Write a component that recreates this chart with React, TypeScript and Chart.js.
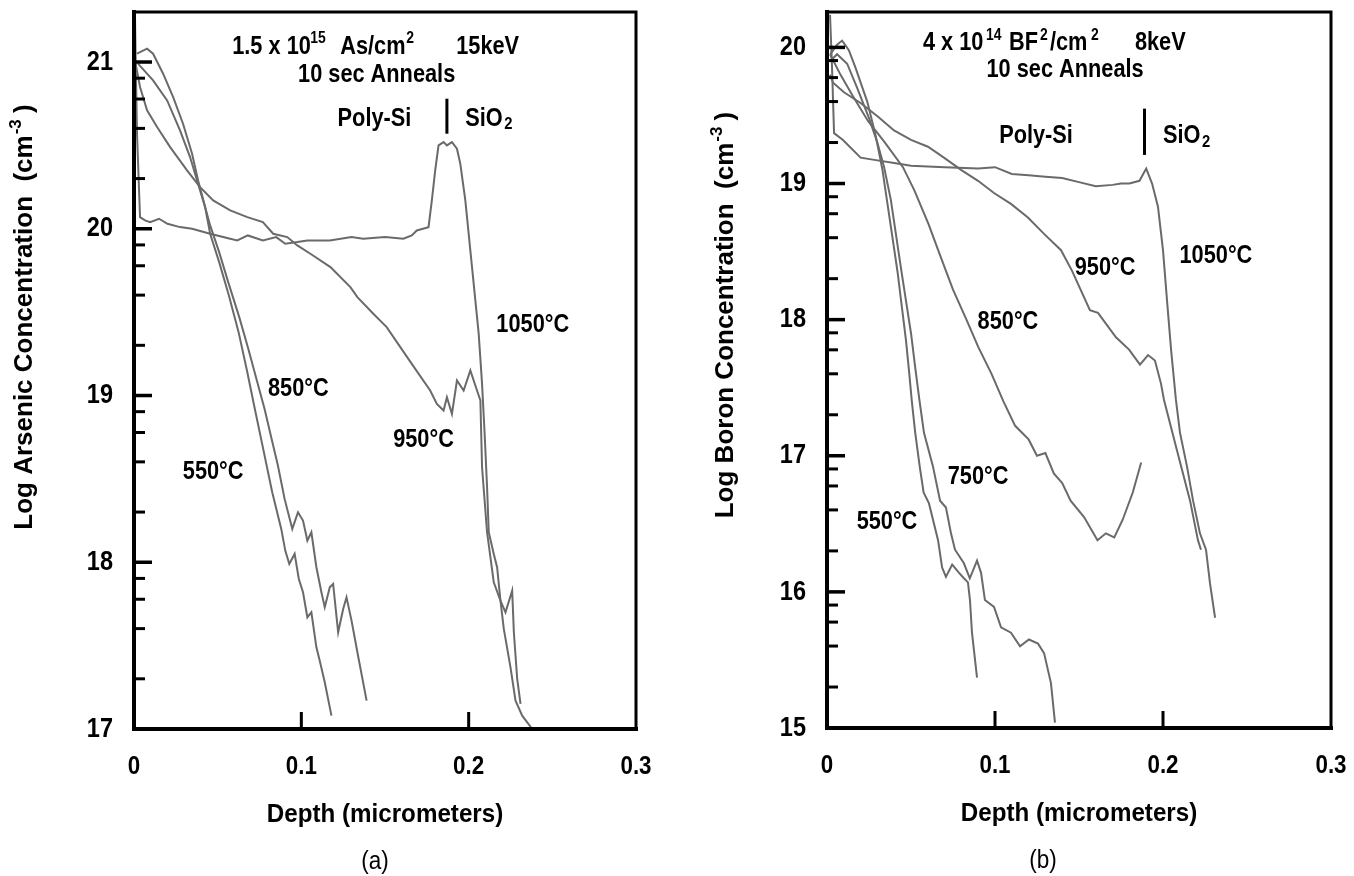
import React, { useEffect, useRef } from 'react';
import { Chart, registerables } from 'chart.js';

Chart.register(...registerables);

// ---------------- DATA ----------------
// Panel (a): Log Arsenic concentration vs depth (micrometers)
const A_550_X = [0.0018, 0.0078, 0.0114, 0.0174, 0.0234, 0.0293, 0.0347, 0.0383, 0.0425, 0.0455, 0.0509, 0.0567, 0.0625, 0.0675, 0.072, 0.0772, 0.0826, 0.088, 0.0904, 0.0928, 0.096, 0.0985, 0.101, 0.1036, 0.106, 0.109, 0.111, 0.114, 0.118];
const A_550_Y = [21.05, 21.08, 21.05, 20.93, 20.79, 20.63, 20.45, 20.29, 20.13, 19.97, 19.8, 19.6, 19.38, 19.15, 18.93, 18.68, 18.42, 18.2, 18.07, 17.99, 18.05, 17.9, 17.82, 17.67, 17.7, 17.49, 17.41, 17.28, 17.08];

const A_850_X = [0.0024, 0.0114, 0.0198, 0.0275, 0.0335, 0.0377, 0.0425, 0.0455, 0.0509, 0.0563, 0.0629, 0.0683, 0.0737, 0.078, 0.082, 0.086, 0.09, 0.0946, 0.098, 0.101, 0.1036, 0.106, 0.109, 0.112, 0.114, 0.117, 0.119, 0.122, 0.125, 0.127, 0.13, 0.1335, 0.139];
const A_850_Y = [20.99, 20.89, 20.77, 20.59, 20.43, 20.29, 20.13, 20.02, 19.86, 19.68, 19.47, 19.28, 19.08, 18.92, 18.75, 18.58, 18.38, 18.2, 18.3, 18.25, 18.13, 18.18, 17.97, 17.82, 17.73, 17.85, 17.87, 17.58, 17.72, 17.79, 17.65, 17.46, 17.17];

const A_950_X = [0.0006, 0.0036, 0.0078, 0.0138, 0.0216, 0.0317, 0.0395, 0.0473, 0.0575, 0.0677, 0.077, 0.0832, 0.0916, 0.0976, 0.1054, 0.1174, 0.1293, 0.1335, 0.143, 0.151, 0.166, 0.177, 0.181, 0.185, 0.187, 0.19, 0.193, 0.197, 0.201, 0.205, 0.207, 0.208, 0.211, 0.215, 0.219, 0.222, 0.226, 0.227, 0.229, 0.231];
const A_950_Y = [21.01, 20.85, 20.71, 20.61, 20.49, 20.35, 20.25, 20.17, 20.11, 20.07, 20.04, 19.97, 19.95, 19.9, 19.85, 19.77, 19.65, 19.59, 19.49, 19.41, 19.19, 19.03, 18.95, 18.91, 18.99, 18.89, 19.09, 19.03, 19.15, 19.03, 18.97, 18.57, 18.18, 17.88, 17.77, 17.7, 17.83, 17.58, 17.3, 17.15];

const A_1050_X = [0.0006, 0.0012, 0.0018, 0.0036, 0.0066, 0.0096, 0.015, 0.02, 0.0275, 0.0347, 0.0455, 0.0575, 0.0617, 0.068, 0.077, 0.085, 0.0904, 0.0976, 0.1036, 0.117, 0.13, 0.137, 0.15, 0.161, 0.166, 0.169, 0.176, 0.178, 0.18, 0.182, 0.185, 0.187, 0.19, 0.193, 0.195, 0.198, 0.202, 0.206, 0.208, 0.2095, 0.211, 0.212, 0.215, 0.217, 0.219, 0.221, 0.225, 0.228, 0.232, 0.238];
const A_1050_Y = [21.27, 20.9, 20.57, 20.07, 20.05, 20.04, 20.06, 20.03, 20.01, 20.0, 19.97, 19.94, 19.93, 19.96, 19.93, 19.95, 19.91, 19.92, 19.93, 19.93, 19.95, 19.94, 19.95, 19.94, 19.96, 19.99, 20.01, 20.17, 20.35, 20.5, 20.52, 20.5, 20.52, 20.48, 20.39, 20.17, 19.77, 19.37, 19.07, 18.78, 18.45, 18.18, 18.05, 17.97, 17.77, 17.6, 17.37, 17.17, 17.08, 17.0];

// Poly-Si | SiO2 interface marker, panel (a)
const A_IFACE_X = [0.187, 0.187];
const A_IFACE_Y = [20.57, 20.78];

// Panel (b): Log Boron concentration vs depth (micrometers)
const B_550_X = [0.002, 0.006, 0.009, 0.013, 0.017, 0.024, 0.029, 0.033, 0.036, 0.039, 0.042, 0.0445, 0.047, 0.049, 0.0505, 0.0525, 0.0552, 0.0575, 0.0607, 0.0661, 0.0685, 0.0708, 0.0745, 0.0786, 0.0815, 0.0839, 0.0851, 0.0863, 0.0893];
const B_550_Y = [19.95, 20.02, 20.05, 19.98, 19.85, 19.6, 19.35, 19.1, 18.85, 18.6, 18.35, 18.1, 17.85, 17.6, 17.4, 17.17, 16.92, 16.73, 16.65, 16.38, 16.18, 16.11, 16.2, 16.14, 16.1, 16.07, 15.94, 15.7, 15.37];

const B_750_X = [0.002, 0.006, 0.012, 0.018, 0.025, 0.03, 0.034, 0.038, 0.041, 0.044, 0.047, 0.05, 0.0525, 0.055, 0.0577, 0.0631, 0.0673, 0.0708, 0.0738, 0.0762, 0.0815, 0.085, 0.0893, 0.0917, 0.094, 0.0994, 0.1036, 0.1095, 0.1149, 0.1202, 0.1256, 0.1292, 0.1333, 0.1357];
const B_750_Y = [19.9, 19.95, 19.88, 19.7, 19.48, 19.3, 19.12, 18.88, 18.63, 18.38, 18.14, 17.9, 17.65, 17.41, 17.17, 16.92, 16.67, 16.62, 16.43, 16.31, 16.21, 16.1, 16.23, 16.14, 15.94, 15.89, 15.74, 15.7, 15.6, 15.65, 15.62, 15.55, 15.33, 15.04];

const B_850_X = [0.0018, 0.008, 0.015, 0.0244, 0.0345, 0.0452, 0.052, 0.0605, 0.068, 0.075, 0.083, 0.09, 0.098, 0.105, 0.112, 0.12, 0.125, 0.13, 0.135, 0.14, 0.145, 0.153, 0.161, 0.166, 0.171, 0.176, 0.182, 0.187];
const B_850_Y = [19.95, 19.8, 19.65, 19.46, 19.3, 19.12, 18.95, 18.7, 18.45, 18.22, 18.0, 17.8, 17.6, 17.4, 17.22, 17.12, 17.0, 17.02, 16.87, 16.8, 16.67, 16.55, 16.38, 16.43, 16.4, 16.53, 16.73, 16.95];

const B_950_X = [0.0018, 0.0036, 0.0101, 0.0202, 0.0304, 0.0399, 0.05, 0.0601, 0.0696, 0.0798, 0.0899, 0.0994, 0.1095, 0.1196, 0.1292, 0.1393, 0.1458, 0.1565, 0.1613, 0.172, 0.1798, 0.1863, 0.1911, 0.1952, 0.1988, 0.2006, 0.2083, 0.2161, 0.2208, 0.2226];
const B_950_Y = [19.8, 19.74, 19.67, 19.59, 19.49, 19.39, 19.32, 19.27, 19.19, 19.1, 19.02, 18.93, 18.85, 18.75, 18.63, 18.51, 18.36, 18.07, 18.05, 17.87, 17.78, 17.67, 17.74, 17.7, 17.53, 17.41, 17.04, 16.67, 16.38, 16.31];

const B_1050_X = [0.0018, 0.003, 0.0036, 0.0042, 0.0095, 0.02, 0.03, 0.04, 0.05, 0.07, 0.09, 0.1, 0.11, 0.12, 0.13, 0.14, 0.15, 0.16, 0.17, 0.175, 0.18, 0.186, 0.19, 0.1935, 0.197, 0.2, 0.2024, 0.2048, 0.2077, 0.2101, 0.2143, 0.2179, 0.222, 0.2256, 0.228, 0.231];
const B_1050_Y = [20.24, 19.85, 19.61, 19.37, 19.32, 19.19, 19.17, 19.15, 19.13, 19.12, 19.11, 19.12, 19.07, 19.06, 19.05, 19.04, 19.01, 18.98, 18.99, 19.0, 19.0, 19.02, 19.11, 19.0, 18.83, 18.51, 18.14, 17.78, 17.41, 17.17, 16.92, 16.67, 16.43, 16.31, 16.06, 15.81];

const B_IFACE_X = [0.189, 0.189];
const B_IFACE_Y = [19.21, 19.55];

// Axis ticks
const X_TICKS = [0, 0.1, 0.2, 0.3];
const X_INNER_TICKS = [0.1, 0.2];
const A_Y_TICKS = [17, 18, 19, 20, 21];
const B_Y_TICKS = [15, 16, 17, 18, 19, 20];
const MINOR_MULTIPLIERS = [2, 4, 6, 8];

// ---------------- STYLE / LAYOUT ----------------
const FONT = '"Liberation Sans", Arial, Helvetica, sans-serif';
const CURVE_COLOR = '#6a6a6a';
const CANVAS_W = 677;
const CANVAS_H = 876;

type Run = { t: string; dx: number; size?: number; dy?: number };
type Label = { x: number; y: number; runs: Run[]; align: 'left' | 'center' };

const zip = (xs: number[], ys: number[]) => xs.map((x, i) => ({ x, y: ys[i] }));

const PANELS = [
  {
    key: 'a',
    yMin: 17,
    yMax: 21.3,
    yTicks: A_Y_TICKS,
    padding: { left: 134, right: CANVAS_W - 636, top: 12, bottom: CANVAS_H - 729 },
    yTitle: 'Log Arsenic Concentration  (cm',
    yTitleX: 25,
    yTitleY: 317,
    panelLabel: '(a)',
    panelLabelDx: -10,
    curves: [
      zip(A_550_X, A_550_Y),
      zip(A_850_X, A_850_Y),
      zip(A_950_X, A_950_Y),
      zip(A_1050_X, A_1050_Y),
    ],
    iface: zip(A_IFACE_X, A_IFACE_Y),
    labels: [
      { x: 0.0587, y: 21.09, align: 'left', runs: [
        { t: '1.5 x 10', dx: 0 }, { t: '15', dx: 78, size: 16, dy: -8 },
        { t: 'As/cm', dx: 108 }, { t: '2', dx: 174, size: 16, dy: -8 }, { t: '15keV', dx: 224 }] },
      { x: 0.145, y: 20.92, align: 'center', runs: [{ t: '10 sec Anneals', dx: 0 }] },
      { x: 0.1437, y: 20.66, align: 'center', runs: [{ t: 'Poly-Si', dx: 0 }] },
      { x: 0.198, y: 20.66, align: 'left', runs: [{ t: 'SiO', dx: 0 }, { t: '2', dx: 39, size: 17, dy: 6 }] },
      { x: 0.2383, y: 19.42, align: 'center', runs: [{ t: '1050°C', dx: 0 }] },
      { x: 0.0982, y: 19.04, align: 'center', runs: [{ t: '850°C', dx: 0 }] },
      { x: 0.173, y: 18.73, align: 'center', runs: [{ t: '950°C', dx: 0 }] },
      { x: 0.0473, y: 18.54, align: 'center', runs: [{ t: '550°C', dx: 0 }] },
    ] as Label[],
  },
  {
    key: 'b',
    yMin: 15,
    yMax: 20.26,
    yTicks: B_Y_TICKS,
    padding: { left: 150, right: CANVAS_W - 654, top: 12, bottom: CANVAS_H - 728 },
    yTitle: 'Log Boron Concentration  (cm',
    yTitleX: 49,
    yTitleY: 315,
    panelLabel: '(b)',
    panelLabelDx: -36,
    curves: [
      zip(B_550_X, B_550_Y),
      zip(B_750_X, B_750_Y),
      zip(B_850_X, B_850_Y),
      zip(B_950_X, B_950_Y),
      zip(B_1050_X, B_1050_Y),
    ],
    iface: zip(B_IFACE_X, B_IFACE_Y),
    labels: [
      { x: 0.0571, y: 20.03, align: 'left', runs: [
        { t: '4 x 10', dx: 0 }, { t: '14', dx: 63, size: 16, dy: -8 },
        { t: 'BF', dx: 86 }, { t: '2', dx: 117, size: 16, dy: -8 },
        { t: '/cm', dx: 127 }, { t: '2', dx: 168, size: 16, dy: -8 }, { t: '8keV', dx: 212 }] },
      { x: 0.1417, y: 19.83, align: 'center', runs: [{ t: '10 sec Anneals', dx: 0 }] },
      { x: 0.1244, y: 19.35, align: 'center', runs: [{ t: 'Poly-Si', dx: 0 }] },
      { x: 0.2, y: 19.35, align: 'left', runs: [{ t: 'SiO', dx: 0 }, { t: '2', dx: 39, size: 17, dy: 6 }] },
      { x: 0.2315, y: 18.47, align: 'center', runs: [{ t: '1050°C', dx: 0 }] },
      { x: 0.1655, y: 18.38, align: 'center', runs: [{ t: '950°C', dx: 0 }] },
      { x: 0.1077, y: 17.98, align: 'center', runs: [{ t: '850°C', dx: 0 }] },
      { x: 0.0899, y: 16.84, align: 'center', runs: [{ t: '750°C', dx: 0 }] },
      { x: 0.0357, y: 16.51, align: 'center', runs: [{ t: '550°C', dx: 0 }] },
    ] as Label[],
  },
];

function drawText(ctx: CanvasRenderingContext2D, s: string, x: number, y: number, size: number, align: CanvasTextAlign, sx: number, weight = 'bold') {
  ctx.save();
  ctx.translate(x, y);
  ctx.scale(sx, 1);
  ctx.font = `${weight} ${size}px ${FONT}`;
  ctx.textAlign = align;
  ctx.textBaseline = 'middle';
  ctx.fillText(s, 0, 0);
  ctx.restore();
}

function makePlugin(panel: any) {
  return {
    id: 'decor_' + panel.key,
    afterDatasetsDraw(chart: any) {
      const { ctx, chartArea: ca, scales } = chart;
      const xs = scales.x;
      const ys = scales.y;
      ctx.save();
      ctx.fillStyle = '#000';
      ctx.strokeStyle = '#000';
      ctx.lineCap = 'square';
      // frame
      ctx.lineWidth = 3;
      ctx.beginPath();
      ctx.moveTo(ca.left, ca.top);
      ctx.lineTo(ca.right, ca.top);
      ctx.lineTo(ca.right, ca.bottom);
      ctx.stroke();
      ctx.lineWidth = 4;
      ctx.beginPath();
      ctx.moveTo(ca.left, ca.top);
      ctx.lineTo(ca.left, ca.bottom);
      ctx.lineTo(ca.right, ca.bottom);
      ctx.stroke();
      ctx.lineCap = 'butt';
      // y ticks (major + log minor at 2,4,6,8)
      ctx.lineWidth = 3;
      for (const v of panel.yTicks) {
        const py = ys.getPixelForValue(v);
        if (v > panel.yMin) {
          ctx.lineWidth = 3.5;
          ctx.beginPath();
          ctx.moveTo(ca.left, py);
          ctx.lineTo(ca.left + 18, py);
          ctx.stroke();
          ctx.lineWidth = 3;
        }
        for (const m of MINOR_MULTIPLIERS) {
          const mv = v + Math.log10(m);
          if (mv < panel.yMax) {
            const mp = ys.getPixelForValue(mv);
            ctx.beginPath();
            ctx.moveTo(ca.left, mp);
            ctx.lineTo(ca.left + 11, mp);
            ctx.stroke();
          }
        }
        drawText(ctx, String(v), ca.left - 21, py, 28, 'right', 0.84);
      }
      // x ticks
      for (const v of X_INNER_TICKS) {
        const px = xs.getPixelForValue(v);
        ctx.beginPath();
        ctx.moveTo(px, ca.bottom);
        ctx.lineTo(px, ca.bottom - 17);
        ctx.stroke();
      }
      for (const v of X_TICKS) {
        const px = xs.getPixelForValue(v);
        drawText(ctx, v === 0 ? '0' : v.toFixed(1), px, ca.bottom + 38, 26, 'center', 0.86);
      }
      // axis titles
      const cx = (ca.left + ca.right) / 2;
      drawText(ctx, 'Depth (micrometers)', cx, ca.bottom + 86, 26, 'center', 0.93);
      drawText(ctx, panel.panelLabel, cx + panel.panelLabelDx, ca.bottom + 133, 25, 'center', 0.9, 'normal');
      // rotated y title with superscript
      ctx.save();
      ctx.translate(panel.yTitleX, panel.yTitleY);
      ctx.rotate(-Math.PI / 2);
      ctx.textBaseline = 'middle';
      ctx.textAlign = 'left';
      ctx.font = `bold 26px ${FONT}`;
      const w1 = ctx.measureText(panel.yTitle).width;
      ctx.font = `bold 17px ${FONT}`;
      const w2 = ctx.measureText('-3').width;
      ctx.font = `bold 26px ${FONT}`;
      const w3 = ctx.measureText(' )').width;
      const total = w1 + w2 + w3;
      const sx0 = -total / 2;
      ctx.fillText(panel.yTitle, sx0, 0);
      ctx.font = `bold 17px ${FONT}`;
      ctx.fillText('-3', sx0 + w1 + 1, -9);
      ctx.font = `bold 26px ${FONT}`;
      ctx.fillText(' )', sx0 + w1 + w2, 0);
      ctx.restore();
      // annotations
      for (const lab of panel.labels as Label[]) {
        const px = xs.getPixelForValue(lab.x);
        const py = ys.getPixelForValue(lab.y);
        for (const r of lab.runs) {
          drawText(ctx, r.t, px + r.dx, py + (r.dy || 0), r.size || 25, lab.align, 0.87);
        }
      }
      ctx.restore();
    },
  };
}

function Panel({ panel, left }: { panel: any; left: number }) {
  const ref = useRef<HTMLCanvasElement>(null);
  useEffect(() => {
    if (!ref.current) return;
    const datasets: any[] = panel.curves.map((pts: any[]) => ({
      data: pts,
      borderColor: CURVE_COLOR,
      borderWidth: 2,
      pointRadius: 0,
      tension: 0,
      fill: false,
    }));
    datasets.push({
      data: panel.iface,
      borderColor: '#000',
      borderWidth: 3,
      pointRadius: 0,
      fill: false,
    });
    const chart = new Chart(ref.current, {
      type: 'line',
      data: { datasets },
      options: {
        responsive: false,
        animation: false,
        devicePixelRatio: 1,
        layout: { padding: panel.padding, autoPadding: false },
        plugins: { legend: { display: false }, tooltip: { enabled: false }, title: { display: false } },
        events: [],
        scales: {
          x: {
            type: 'linear', min: 0, max: 0.3,
            ticks: { display: false },
            grid: { display: false, drawTicks: false },
            border: { display: false },
            afterFit: (s: any) => { s.height = 0; },
          },
          y: {
            type: 'linear', min: panel.yMin, max: panel.yMax,
            ticks: { display: false },
            grid: { display: false, drawTicks: false },
            border: { display: false },
            afterFit: (s: any) => { s.width = 0; },
          },
        },
      } as any,
      plugins: [makePlugin(panel)],
    });
    return () => chart.destroy();
  }, [panel]);
  return (
    <canvas
      ref={ref}
      width={CANVAS_W}
      height={CANVAS_H}
      style={{ position: 'absolute', left, top: 0, width: CANVAS_W, height: CANVAS_H, display: 'block' }}
    />
  );
}

export default function App() {
  return (
    <div style={{ position: 'absolute', left: 0, top: 0, width: 1354, height: 876, background: '#fff', overflow: 'hidden' }}>
      <Panel panel={PANELS[0]} left={0} />
      <Panel panel={PANELS[1]} left={CANVAS_W} />
    </div>
  );
}
